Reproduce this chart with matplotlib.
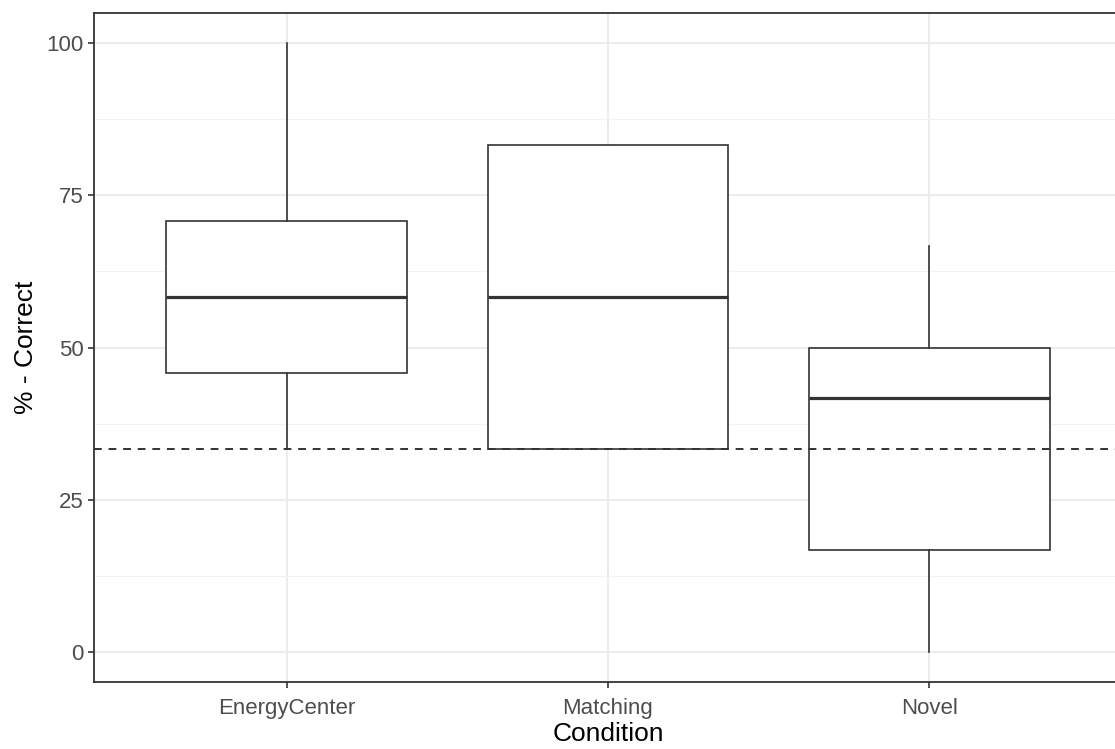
import matplotlib
matplotlib.use("Agg")
import matplotlib.pyplot as plt
from matplotlib.ticker import MultipleLocator

categories = ["EnergyCenter", "Matching", "Novel"]
whisker_low = [33.3, 33.3, 0.0]
q1 = [45.8, 33.3, 16.7]
median = [58.3, 58.3, 41.7]
q3 = [70.8, 83.3, 50.0]
whisker_high = [100.0, 83.3, 66.7]
chance_level = 33.33
y_ticks = [0, 25, 50, 75, 100]

plt.rcParams['font.family'] = ['Liberation Sans', 'DejaVu Sans']

fig = plt.figure(figsize=(11.15, 7.49), dpi=100)
W, H = 1115, 749
left, right, top, bottom = 94, 1122, 13, 682
ax = fig.add_axes([left / W, 1 - bottom / H, (right - left) / W, (bottom - top) / H])

stats = []
for i, c in enumerate(categories):
    stats.append(dict(label=c, whislo=whisker_low[i], q1=q1[i], med=median[i],
                      q3=q3[i], whishi=whisker_high[i], fliers=[]))

edge = "#333333"
ax.bxp(stats, positions=[1, 2, 3], widths=0.75, showfliers=False, showcaps=False,
       patch_artist=True,
       boxprops=dict(facecolor="white", edgecolor=edge, linewidth=1.2),
       whiskerprops=dict(color=edge, linewidth=1.2),
       medianprops=dict(color=edge, linewidth=2.3, solid_capstyle="butt"),
       zorder=3)

ax.axhline(chance_level, color="#333333", linestyle=(0, (4, 3.5)), linewidth=1.4, zorder=4)

ax.set_xlim(0.4, 3.6)
ax.set_ylim(-5, 105)
ax.set_yticks(y_ticks)
ax.yaxis.set_minor_locator(MultipleLocator(12.5))
ax.set_xticks([1, 2, 3])
ax.set_xticklabels(categories)

ax.grid(True, which="major", color="#EBEBEB", linewidth=1.3, zorder=0)
ax.grid(True, which="minor", axis="y", color="#F2F2F2", linewidth=0.8, zorder=0)
ax.set_axisbelow(True)

for s in ax.spines.values():
    s.set_color("#333333")
    s.set_linewidth(1.3)

ax.tick_params(axis="both", which="major", colors="#333333", length=4.5, width=1.2,
               labelsize=16, labelcolor="#4D4D4D", pad=3)
ax.tick_params(axis="x", which="major", pad=7)
ax.tick_params(axis="y", which="minor", length=0)

ax.set_xlabel("Condition", fontsize=19, color="black", labelpad=2)
ax.set_ylabel("% - Correct", fontsize=19, color="black", labelpad=6)

fig.savefig("out.png", dpi=100)
